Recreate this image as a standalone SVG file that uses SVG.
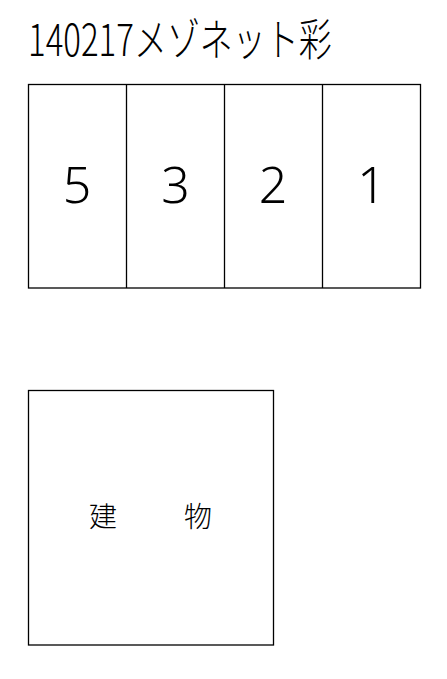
<svg xmlns="http://www.w3.org/2000/svg" width="447" height="679" viewBox="0 0 447 679">
<style>
.ln{fill:none;stroke:#000;stroke-width:1.3}
.t{font-family:"Noto Sans CJK JP","Noto Sans",sans-serif;fill:#000}
.num{font-family:"Noto Sans","Noto Sans CJK JP",sans-serif;font-size:50px;font-weight:300;text-anchor:middle;fill:#000}
</style>
<rect width="447" height="679" fill="#fff"/>
<text class="t" transform="translate(28,56) scale(1,1.35)" x="0" y="0" font-size="33" font-weight="300">140217メゾネット彩</text>
<g id="units">
<rect class="ln" x="28.5" y="84.5" width="392" height="203.5"/>
<line class="ln" x1="126.5" y1="84.5" x2="126.5" y2="288"/>
<line class="ln" x1="224.5" y1="84.5" x2="224.5" y2="288"/>
<line class="ln" x1="322.5" y1="84.5" x2="322.5" y2="288"/>
<text class="num" x="77" y="203">5</text>
<text class="num" x="175.5" y="203">3</text>
<text class="num" x="273" y="203">2</text>
<text class="num" x="371.5" y="203">1</text>
</g>
<g id="building">
<rect class="ln" x="28.5" y="390.5" width="245" height="254.5"/>
<text class="t" x="103" y="527" font-size="28" font-weight="300" text-anchor="middle">建</text>
<text class="t" x="198" y="527" font-size="28" font-weight="300" text-anchor="middle">物</text>
</g>
</svg>
